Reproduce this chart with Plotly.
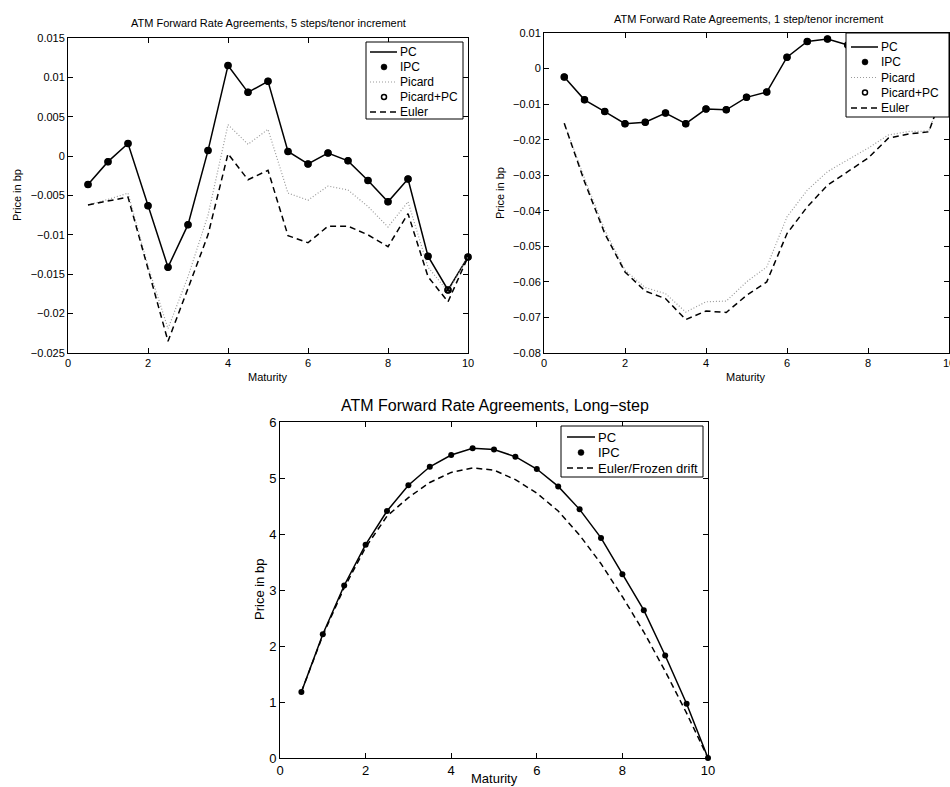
import plotly.graph_objects as go

# ---------------- data ----------------
maturity = [0.5, 1.0, 1.5, 2.0, 2.5, 3.0, 3.5, 4.0, 4.5, 5.0,
            5.5, 6.0, 6.5, 7.0, 7.5, 8.0, 8.5, 9.0, 9.5, 10.0]

# Panel 1: 5 steps / tenor increment
p1_pc = [-0.0036, -0.0007, 0.0016, -0.0063, -0.0141, -0.0087, 0.0007, 0.0115, 0.0081, 0.0095,
         0.0006, -0.0010, 0.0004, -0.0006, -0.0031, -0.0058, -0.0029, -0.0127, -0.0170, -0.0128]
p1_ipc = p1_pc
p1_picard = [-0.0062, -0.0055, -0.0047, -0.0140, -0.0219, -0.0153, -0.0075, 0.0040, 0.0015, 0.0034,
             -0.0047, -0.0056, -0.0038, -0.0043, -0.0064, -0.0090, -0.0058, -0.0141, -0.0172, -0.0128]
p1_picard_pc = p1_pc
p1_euler = [-0.0062, -0.0057, -0.0052, -0.0143, -0.0235, -0.0168, -0.0100, 0.0003, -0.0030, -0.0018,
            -0.0101, -0.0110, -0.0089, -0.0089, -0.0100, -0.0115, -0.0073, -0.0153, -0.0185, -0.0128]

# Panel 2: 1 step / tenor increment
p2_pc = [-0.0024, -0.0088, -0.0121, -0.0155, -0.0151, -0.0125, -0.0155, -0.0114, -0.0116, -0.0081,
         -0.0066, 0.0032, 0.0076, 0.0083, 0.0066, 0.0048, 0.0030, 0.0012, -0.0004, -0.0022]
p2_ipc = p2_pc
p2_picard = [-0.0154, -0.0309, -0.0454, -0.0567, -0.0616, -0.0633, -0.0685, -0.0656, -0.0654, -0.0600,
             -0.0558, -0.0417, -0.0342, -0.0290, -0.0257, -0.0224, -0.0187, -0.0177, -0.0176, -0.0022]
p2_picard_pc = p2_pc
p2_euler = [-0.0154, -0.0318, -0.0464, -0.0572, -0.0626, -0.0647, -0.0706, -0.0682, -0.0686, -0.0638,
            -0.0600, -0.0464, -0.0389, -0.0328, -0.0290, -0.0252, -0.0196, -0.0184, -0.0178, -0.0022]

# Panel 3: Long-step
p3_pc = [1.18, 2.21, 3.08, 3.81, 4.41, 4.87, 5.20, 5.41, 5.53, 5.51,
         5.38, 5.16, 4.85, 4.44, 3.93, 3.28, 2.64, 1.83, 0.97, 0.00]
p3_ipc = p3_pc
p3_euler = [1.18, 2.19, 3.04, 3.76, 4.32, 4.65, 4.92, 5.10, 5.18, 5.14,
            4.97, 4.73, 4.41, 3.98, 3.47, 2.88, 2.25, 1.55, 0.80, 0.00]

# tick labels
x_ticks = [0, 2, 4, 6, 8, 10]
x_ticktext = ["0", "2", "4", "6", "8", "10"]
y1_ticks = [-0.025, -0.02, -0.015, -0.01, -0.005, 0, 0.005, 0.01, 0.015]
y1_ticktext = ["\u22120.025", "\u22120.02", "\u22120.015", "\u22120.01", "\u22120.005", "0", "0.005", "0.01", "0.015"]
y2_ticks = [-0.08, -0.07, -0.06, -0.05, -0.04, -0.03, -0.02, -0.01, 0, 0.01]
y2_ticktext = ["\u22120.08", "\u22120.07", "\u22120.06", "\u22120.05", "\u22120.04", "\u22120.03", "\u22120.02", "\u22120.01", "0", "0.01"]
y3_ticks = [0, 1, 2, 3, 4, 5, 6]
y3_ticktext = ["0", "1", "2", "3", "4", "5", "6"]

titles = ["ATM Forward Rate Agreements, 5 steps/tenor increment",
          "ATM Forward Rate Agreements, 1 step/tenor increment",
          "ATM Forward Rate Agreements, Long\u2212step"]
legend_names_full = ["PC", "IPC", "Picard", "Picard+PC", "Euler"]
legend_names_long = ["PC", "IPC", "Euler/Frozen drift"]

FONT = "Liberation Sans, Arial, Helvetica, sans-serif"
DASH = "6px,4px"
DOT = "1px,2px"
PICARD_COLOR = "#9a9a9a"

W, H = 950, 787


def px_x(v):
    return v / W


def px_y(v):
    return 1 - v / H


fig = go.Figure()


def add_panel(ax, pc, ipc, picard, picard_pc, euler, msize, names):
    xa = "x" if ax == 1 else f"x{ax}"
    ya = "y" if ax == 1 else f"y{ax}"
    common = dict(xaxis=xa, yaxis=ya, showlegend=False, cliponaxis=False)
    fig.add_trace(go.Scatter(x=maturity, y=pc, mode="lines", name=names[0],
                             line=dict(color="black", width=1.5), **common))
    fig.add_trace(go.Scatter(x=maturity, y=ipc, mode="markers", name=names[1],
                             marker=dict(color="black", size=msize, symbol="circle"), **common))
    if picard is not None:
        fig.add_trace(go.Scatter(x=maturity, y=picard, mode="lines", name=names[2],
                                 line=dict(color=PICARD_COLOR, width=1.2, dash=DOT), **common))
        fig.add_trace(go.Scatter(x=maturity, y=picard_pc, mode="markers", name=names[3],
                                 marker=dict(color="black", size=msize - 1, symbol="circle-open",
                                             line=dict(width=1.5, color="black")), **common))
    fig.add_trace(go.Scatter(x=maturity, y=euler, mode="lines", name=names[-1],
                             line=dict(color="black", width=1.5, dash=DASH), **common))


add_panel(1, p1_pc, p1_ipc, p1_picard, p1_picard_pc, p1_euler, 7, legend_names_full)
add_panel(2, p2_pc, p2_ipc, p2_picard, p2_picard_pc, p2_euler, 7, legend_names_full)
add_panel(3, p3_pc, p3_ipc, None, None, p3_euler, 6, legend_names_long)


def axis_common(tickvals, ticktext, rng, domain, anchor, size):
    return dict(domain=domain, anchor=anchor, range=rng, tickvals=tickvals, ticktext=ticktext,
                showgrid=False, zeroline=False, showline=True, linecolor="black", linewidth=1,
                mirror="ticks", ticks="inside", ticklen=5, tickcolor="black",
                ticklabeloverflow="allow",
                tickfont=dict(family=FONT, size=size, color="black"), automargin=False)


layout = dict(
    width=W, height=H, margin=dict(l=0, r=0, t=0, b=0),
    paper_bgcolor="white", plot_bgcolor="white",
    font=dict(family=FONT, color="black"),
    showlegend=False,
    xaxis=axis_common(x_ticks, x_ticktext, [0, 10], [px_x(68), px_x(468)], "y", 11),
    yaxis=axis_common(y1_ticks, y1_ticktext, [-0.025, 0.015], [px_y(353), px_y(38)], "x", 11),
    xaxis2=axis_common(x_ticks, x_ticktext, [0, 10], [px_x(544), px_x(949)], "y2", 11),
    yaxis2=axis_common(y2_ticks, y2_ticktext, [-0.08, 0.01], [px_y(353), px_y(33)], "x2", 11),
    xaxis3=axis_common(x_ticks, x_ticktext, [0, 10], [px_x(280), px_x(708)], "y3", 13),
    yaxis3=axis_common(y3_ticks, y3_ticktext, [0, 6], [px_y(758), px_y(422)], "x3", 13),
)
fig.update_layout(**layout)

shapes = []
annotations = []


def draw_legend(box, rows, sample_x, marker_x, text_x, font_size, dot_r):
    x0, y0, x1, y1 = box
    shapes.append(dict(type="rect", xref="paper", yref="paper", layer="above",
                       x0=px_x(x0), x1=px_x(x1), y0=px_y(y1), y1=px_y(y0),
                       fillcolor="white", line=dict(color="black", width=1)))
    for (yy, kind, label) in rows:
        if kind in ("solid", "dash", "dot"):
            if kind == "solid":
                ln = dict(color="black", width=1.5)
            elif kind == "dash":
                ln = dict(color="black", width=1.5, dash=DASH)
            else:
                ln = dict(color=PICARD_COLOR, width=1.2, dash=DOT)
            shapes.append(dict(type="line", xref="paper", yref="paper", layer="above",
                               x0=px_x(sample_x[0]), x1=px_x(sample_x[1]),
                               y0=px_y(yy), y1=px_y(yy), line=ln))
        elif kind == "dotmark":
            shapes.append(dict(type="circle", xref="paper", yref="paper", layer="above",
                               x0=px_x(marker_x - dot_r), x1=px_x(marker_x + dot_r),
                               y0=px_y(yy + dot_r), y1=px_y(yy - dot_r),
                               fillcolor="black", line=dict(color="black", width=0.5)))
        elif kind == "openmark":
            r = dot_r - 0.5
            shapes.append(dict(type="circle", xref="paper", yref="paper", layer="above",
                               x0=px_x(marker_x - r), x1=px_x(marker_x + r),
                               y0=px_y(yy + r), y1=px_y(yy - r),
                               fillcolor="white", line=dict(color="black", width=1.5)))
        annotations.append(dict(text=label, x=px_x(text_x), y=px_y(yy), xanchor="left",
                                yanchor="middle", font=dict(size=font_size)))


draw_legend((366, 42, 463, 119),
            [(52, "solid", legend_names_full[0]), (67, "dotmark", legend_names_full[1]),
             (82, "dot", legend_names_full[2]), (97, "openmark", legend_names_full[3]),
             (112, "dash", legend_names_full[4])],
            (370, 397), 384, 398, 12, 3)
draw_legend((846, 33, 949, 117),
            [(47, "solid", legend_names_full[0]), (62, "dotmark", legend_names_full[1]),
             (77.5, "dot", legend_names_full[2]), (92.5, "openmark", legend_names_full[3]),
             (108, "dash", legend_names_full[4])],
            (851, 878), 865, 879, 12, 3)
draw_legend((561, 426, 703, 477),
            [(437, "solid", legend_names_long[0]), (452.5, "dotmark", legend_names_long[1]),
             (468, "dash", legend_names_long[2])],
            (567, 595), 581, 596, 13, 3)

annotations += [
    dict(text=titles[0], x=px_x(268), y=px_y(23), font=dict(size=11)),
    dict(text=titles[1], x=px_x(748), y=px_y(19), font=dict(size=11)),
    dict(text=titles[2], x=px_x(495), y=px_y(405), font=dict(size=16)),
    dict(text="Maturity", x=px_x(268), y=px_y(377), font=dict(size=11)),
    dict(text="Maturity", x=px_x(746), y=px_y(377), font=dict(size=11)),
    dict(text="Maturity", x=px_x(494), y=px_y(778), font=dict(size=13)),
    dict(text="Price in bp", x=px_x(17), y=px_y(195), font=dict(size=11), textangle=-90),
    dict(text="Price in bp", x=px_x(500), y=px_y(193), font=dict(size=11), textangle=-90),
    dict(text="Price in bp", x=px_x(259), y=px_y(590), font=dict(size=13), textangle=-90),
]
for a in annotations:
    a.setdefault("xanchor", "center")
    a.setdefault("yanchor", "middle")
    a.update(xref="paper", yref="paper", showarrow=False)
    a["font"].update(family=FONT, color="black")

fig.update_layout(shapes=shapes, annotations=annotations)

fig.write_html("out.html")
